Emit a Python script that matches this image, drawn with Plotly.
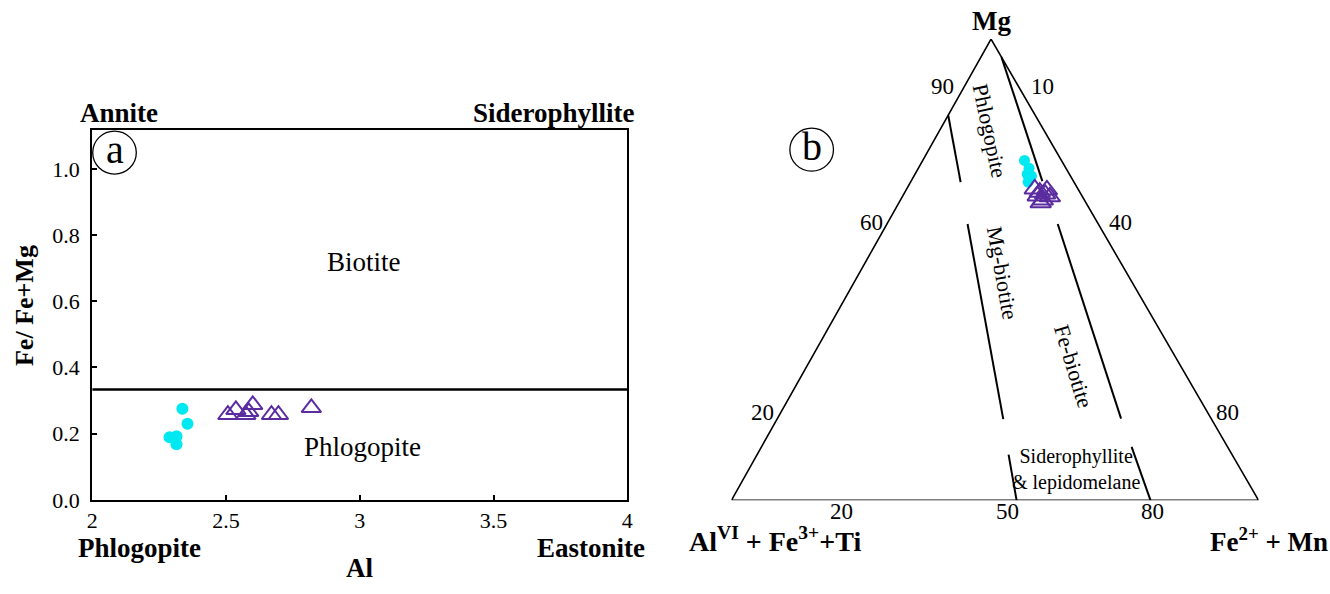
import plotly.graph_objects as go

# ---------------- Panel a data ----------------
a_circle_al = [2.337, 2.356, 2.289, 2.315, 2.315]
a_circle_fe = [0.275, 0.230, 0.189, 0.192, 0.168]
a_tri_al = [2.507, 2.537, 2.574, 2.585, 2.600, 2.670, 2.696, 2.819]
a_tri_fe = [0.257, 0.272, 0.257, 0.266, 0.287, 0.257, 0.257, 0.278]
a_div_al = [2, 4]
a_div_fe = [1 / 3, 1 / 3]
a_xticks = [2, 2.5, 3, 3.5, 4]
a_xticklabels = ["2", "2.5", "3", "3.5", "4"]
a_yticks = [0.0, 0.2, 0.4, 0.6, 0.8, 1.0]
a_yticklabels = ["0.0", "0.2", "0.4", "0.6", "0.8", "1.0"]

# ---------------- Panel b data (ternary %, Mg / AlVI+Fe3++Ti / Fe2++Mn) ----------------
b_circle_mg = [73.7, 72.0, 70.7, 70.3, 69.0]
b_circle_fe = [19.3, 21.0, 21.3, 22.3, 22.3]
b_tri_mg = [67.5, 66.8, 66.0, 66.4, 65.1, 65.8, 64.5, 67.3]
b_tri_fe = [24.3, 25.6, 25.6, 26.8, 27.0, 28.0, 26.9, 26.7]
b_vertex_mg = [0, 100, 0, 0]
b_vertex_fe = [0, 0, 100, 0]
b_line_mg = [[83.5, 69.0], [96.1, 69.2], [59.9, 17.6], [59.9, 17.7], [9.9, 0.0], [11.6, 0.0]]
b_line_fe = [[0.0, 9.5], [3.9, 24.9], [15.3, 42.9], [32.4, 65.2], [47.7, 54.1], [70.2, 79.5]]

W, H = 1330, 594
APEX_X = (994 - 732) / 532
FONT = "Liberation Serif"
CYAN = "#00E8F0"
PURPLE = "#5B2CA0"


def tx(mg, fe):
    return [(f + APEX_X * m) / 100 for m, f in zip(mg, fe)]


def ty(mg):
    return [m / 100 for m in mg]


def px(x):
    return x / W


def py(y):
    return 1 - y / H


fig = go.Figure()

# Panel a traces
fig.add_trace(go.Scatter(x=a_div_al, y=a_div_fe, mode="lines",
                         line=dict(color="black", width=2.5), xaxis="x", yaxis="y",
                         showlegend=False, hoverinfo="skip"))
fig.add_trace(go.Scatter(x=a_circle_al, y=a_circle_fe, mode="markers",
                         marker=dict(symbol="circle", size=12, color=CYAN),
                         xaxis="x", yaxis="y", showlegend=False, cliponaxis=False))
fig.add_trace(go.Scatter(x=a_tri_al, y=a_tri_fe, mode="markers",
                         marker=dict(symbol="triangle-up-open", size=17, color=PURPLE,
                                     line=dict(width=2, color=PURPLE)),
                         xaxis="x", yaxis="y", showlegend=False, cliponaxis=False))

# Panel b traces
fig.add_trace(go.Scatter(x=tx(b_vertex_mg, b_vertex_fe), y=ty(b_vertex_mg), mode="lines",
                         line=dict(color="black", width=1.6), xaxis="x2", yaxis="y2",
                         showlegend=False, hoverinfo="skip", cliponaxis=False))
for mg, fe in zip(b_line_mg, b_line_fe):
    fig.add_trace(go.Scatter(x=tx(mg, fe), y=ty(mg), mode="lines",
                             line=dict(color="black", width=2), xaxis="x2", yaxis="y2",
                             showlegend=False, hoverinfo="skip", cliponaxis=False))
fig.add_trace(go.Scatter(x=tx(b_circle_mg, b_circle_fe), y=ty(b_circle_mg), mode="markers",
                         marker=dict(symbol="circle", size=11, color=CYAN),
                         xaxis="x2", yaxis="y2", showlegend=False, cliponaxis=False))
fig.add_trace(go.Scatter(x=tx(b_tri_mg, b_tri_fe), y=ty(b_tri_mg), mode="markers",
                         marker=dict(symbol="triangle-up-open", size=18, color=PURPLE,
                                     line=dict(width=2, color=PURPLE)),
                         xaxis="x2", yaxis="y2", showlegend=False, cliponaxis=False))

fig.update_layout(
    width=W, height=H, margin=dict(l=0, r=0, t=0, b=0),
    paper_bgcolor="white", plot_bgcolor="white",
    font=dict(family=FONT, size=22, color="black"),
    xaxis=dict(domain=[px(87), px(627)], range=[2, 4], tickmode="array",
               tickvals=a_xticks, ticktext=a_xticklabels, anchor="y"),
    yaxis=dict(domain=[py(511), py(133)], range=[0, 1.117], tickmode="array",
               tickvals=a_yticks, ticktext=a_yticklabels, anchor="x"),
    xaxis2=dict(domain=[px(732), px(1264)], range=[0, 1], visible=False, anchor="y2"),
    yaxis2=dict(domain=[py(511.5), py(40)], range=[0, 1], visible=False, anchor="x2"),
)
fig.update_xaxes(selector=dict(anchor="y"), showgrid=False, zeroline=False, showline=True,
                 linecolor="black", linewidth=2, mirror=True, ticks="inside", ticklen=5,
                 tickwidth=1.5, tickcolor="black",
                 tickfont=dict(family=FONT, size=22, color="black"))
fig.update_yaxes(selector=dict(anchor="x"), showgrid=False, zeroline=False, showline=True,
                 linecolor="black", linewidth=2, mirror=True, ticks="inside", ticklen=5,
                 tickwidth=1.5, tickcolor="black", ticklabelstandoff=6,
                 tickfont=dict(family=FONT, size=22, color="black"))

anns = []


def ann(text, x, y, size=17, bold=False, angle=0, align="center"):
    anns.append(dict(text=f"<b>{text}</b>" if bold else text, x=px(x), y=py(y),
                     xref="paper", yref="paper", showarrow=False, textangle=angle,
                     xanchor="center", yanchor="middle", align=align,
                     font=dict(family=FONT, size=size, color="black")))


# Panel a labels
ann("Annite", 114, 116, 27, True)
ann("Siderophyllite", 553, 116, 27, True)
ann("Phlogopite", 135, 560, 27, True)
ann("Eastonite", 590, 560, 27, True)
ann("Al", 357, 581, 27, True)
ann("Fe/ Fe+Mg", 18, 312, 26, True, -90)
ann("Biotite", 361, 268, 27)
ann("Phlogopite", 360, 457, 27)
ann("a", 109.5, 153, 40)

# Panel b labels
ann("Mg", 994, 21, 27, True)
ann("90", 945, 88, 23)
ann("10", 1046, 88, 23)
ann("60", 873, 227, 23)
ann("40", 1125, 227, 23)
ann("20", 763, 422, 23)
ann("80", 1233, 422, 23)
ann("20", 843, 523, 23)
ann("50", 1011, 523, 23)
ann("80", 1157, 523, 23)
ann("Al<sup>VI</sup> + Fe<sup>3+</sup>+Ti", 776, 552, 28, True)
ann("Fe<sup>2+</sup> + Mn", 1274, 552, 27, True)
ann("Phlogopite", 993, 133, 22, False, 78)
ann("Mg-biotite", 1005, 279, 22, False, 80)
ann("Fe-biotite", 1077, 375, 22, False, 73)
ann("Siderophyllite<br>& lepidomelane", 1080, 480, 20)
ann("b", 813, 150, 40)

fig.update_layout(annotations=anns)

# circled letters
for cx, cy, r in [(109.5, 156, 22), (813, 153, 22)]:
    fig.add_shape(type="circle", xref="paper", yref="paper",
                  x0=px(cx - r), x1=px(cx + r), y0=py(cy + r), y1=py(cy - r),
                  line=dict(color="black", width=1.3))

fig.write_html("out.html")
